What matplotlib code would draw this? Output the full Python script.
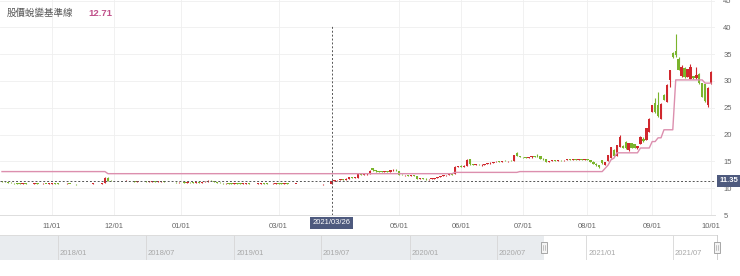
import numpy as np
import pandas as pd
import matplotlib
matplotlib.use("Agg")
import matplotlib.pyplot as plt
import matplotlib.transforms as mtransforms
from matplotlib.patches import Rectangle

plt.rcParams['font.family'] = ['Liberation Sans', 'Noto Sans CJK TC', 'DejaVu Sans']

# ---------------- data ----------------
title_text = "股價蛻變基準線"
start_date = "2020-10-07"
end_date = "2021-10-01"
holidays = ["2020-10-09", "2021-01-01", "2021-02-08", "2021-02-09", "2021-02-10",
            "2021-02-11", "2021-02-12", "2021-02-15", "2021-02-16", "2021-03-01",
            "2021-04-02", "2021-04-05", "2021-04-30", "2021-06-14", "2021-09-20",
            "2021-09-21"]
tick_months = ["2020-11", "2020-12", "2021-01", "2021-03", "2021-05", "2021-06",
               "2021-07", "2021-08", "2021-09", "2021-10"]
tick_labels = ["11/01", "12/01", "01/01", "03/01", "05/01", "06/01",
               "07/01", "08/01", "09/01", "10/01"]
cross_date = "2021-03-26"
y_ticks = [5, 10, 15, 20, 25, 30, 35, 40, 45]

open_ = [
    11.25, 11.20, 11.15, 11.05, 10.95, 10.90, 10.85, 10.80, 10.85, 10.80,
    10.75, 10.80, 10.85, 10.80, 10.78, 10.82, 10.80, 10.85, 10.90, 10.85,
    10.80, 10.75, 10.78, 10.82, 10.80, 10.75, 10.72, 10.75, 10.80, 10.78,
    10.75, 10.80, 10.82, 10.78, 10.80, 10.95, 11.95, 11.40, 11.30, 11.35,
    11.38, 11.32, 11.35, 11.40, 11.33, 11.30, 11.25, 11.30, 11.35, 11.28,
    11.22, 11.25, 11.28, 11.18, 11.20, 11.25, 11.18, 11.12, 11.15, 11.18,
    11.10, 11.15, 11.18, 11.08, 11.12, 11.10, 11.05, 11.10, 11.08, 11.15,
    11.25, 11.40, 11.30, 11.15, 11.05, 10.95, 10.90, 10.95, 10.88, 10.85,
    10.90, 10.85, 10.80, 10.85, 10.88, 10.82, 10.78, 10.82, 10.88, 10.90,
    10.85, 10.80, 10.78, 10.85, 10.92, 10.86, 10.82, 10.85, 10.80, 10.76,
    10.80, 10.82, 10.78, 10.75, 10.78, 10.80, 10.74, 10.76, 10.78, 10.72,
    10.75, 10.76, 10.78, 11.35, 11.50, 11.58, 11.65, 11.60, 11.80, 12.05,
    12.00, 11.95, 12.70, 12.55, 12.60, 12.70, 13.75, 13.35, 13.15, 13.10,
    13.05, 13.12, 13.05, 13.40, 13.45, 13.20, 12.55, 12.45, 12.50, 12.35,
    12.40, 12.25, 11.80, 11.90, 11.75, 11.65, 11.75, 11.80, 11.92, 12.05,
    12.25, 12.40, 12.45, 12.60, 12.70, 14.00, 14.15, 14.05, 14.20, 15.40,
    14.50, 14.35, 14.40, 14.30, 14.40, 14.50, 14.65, 14.70, 14.85, 15.00,
    14.95, 15.10, 15.05, 15.10, 15.08, 16.50, 16.00, 15.80, 15.75, 15.70,
    15.78, 16.00, 16.10, 15.95, 15.55, 15.40, 14.95, 15.10, 15.20, 15.15,
    15.25, 15.20, 15.28, 15.35, 15.30, 15.38, 15.35, 15.40, 15.35, 15.42,
    15.25, 15.00, 14.60, 14.30, 15.20, 14.30, 15.10, 15.60, 17.10, 16.10,
    17.70, 17.90, 18.70, 17.10, 18.40, 18.20, 17.50, 18.25, 19.20, 19.00,
    20.50, 24.30, 25.90, 25.50, 23.00, 27.40, 26.10, 30.20, 35.15, 35.60,
    34.20, 30.90, 32.50, 30.80, 30.40, 30.90, 30.50, 31.40, 29.60, 29.40,
    25.50, 29.60]

high = [
    11.30, 11.25, 11.18, 11.08, 11.00, 10.95, 10.90, 10.90, 10.88, 10.85,
    10.85, 10.90, 10.88, 10.85, 10.88, 10.85, 10.90, 10.95, 10.92, 10.88,
    10.82, 10.82, 10.88, 10.85, 10.82, 10.78, 10.80, 10.85, 10.82, 10.80,
    10.85, 10.88, 10.85, 10.85, 10.95, 12.10, 12.05, 11.45, 11.40, 11.42,
    11.40, 11.40, 11.45, 11.42, 11.38, 11.35, 11.35, 11.38, 11.40, 11.32,
    11.30, 11.32, 11.30, 11.25, 11.28, 11.30, 11.22, 11.20, 11.22, 11.20,
    11.18, 11.22, 11.20, 11.15, 11.18, 11.15, 11.12, 11.15, 11.20, 11.30,
    11.45, 11.48, 11.32, 11.18, 11.08, 11.00, 10.98, 10.98, 10.92, 10.92,
    10.95, 10.88, 10.88, 10.92, 10.90, 10.85, 10.85, 10.90, 10.95, 10.92,
    10.88, 10.85, 10.88, 10.95, 10.95, 10.90, 10.88, 10.90, 10.85, 10.82,
    10.85, 10.86, 10.82, 10.80, 10.84, 10.82, 10.80, 10.82, 10.80, 10.78,
    10.80, 10.80, 11.45, 11.55, 11.62, 11.70, 11.72, 11.85, 12.10, 12.15,
    12.10, 12.80, 12.75, 12.65, 12.75, 13.35, 13.85, 13.40, 13.22, 13.20,
    13.15, 13.18, 13.45, 13.55, 13.50, 13.25, 12.62, 12.55, 12.55, 12.45,
    12.45, 12.30, 11.95, 11.95, 11.82, 11.80, 11.85, 11.95, 12.10, 12.30,
    12.45, 12.50, 12.65, 12.70, 14.05, 14.20, 14.25, 14.25, 15.40, 15.50,
    14.55, 14.45, 14.50, 14.45, 14.55, 14.70, 14.80, 14.90, 15.05, 15.10,
    15.15, 15.20, 15.15, 15.20, 16.25, 16.80, 16.05, 15.90, 15.85, 15.82,
    16.05, 16.10, 16.35, 16.00, 15.60, 15.45, 15.15, 15.25, 15.30, 15.30,
    15.35, 15.30, 15.40, 15.45, 15.42, 15.48, 15.45, 15.50, 15.48, 15.50,
    15.30, 15.05, 14.65, 14.35, 15.30, 14.95, 16.25, 17.75, 17.30, 18.10,
    19.90, 18.00, 18.80, 18.45, 18.50, 18.30, 17.90, 19.70, 19.50, 21.30,
    23.10, 25.60, 26.80, 28.00, 25.90, 27.50, 29.40, 32.10, 35.40, 38.70,
    34.50, 32.90, 32.60, 32.30, 33.20, 31.00, 32.70, 31.50, 29.70, 29.50,
    28.80, 31.80]

low = [
    11.15, 11.10, 11.00, 10.90, 10.85, 10.80, 10.75, 10.75, 10.75, 10.70,
    10.70, 10.75, 10.75, 10.72, 10.75, 10.75, 10.75, 10.80, 10.80, 10.75,
    10.70, 10.70, 10.75, 10.75, 10.70, 10.68, 10.70, 10.72, 10.72, 10.70,
    10.72, 10.75, 10.75, 10.75, 10.78, 10.90, 11.30, 11.25, 11.25, 11.28,
    11.28, 11.28, 11.30, 11.30, 11.25, 11.20, 11.22, 11.25, 11.25, 11.18,
    11.18, 11.20, 11.15, 11.12, 11.15, 11.15, 11.08, 11.08, 11.10, 11.05,
    11.05, 11.10, 11.05, 11.02, 11.05, 11.00, 11.00, 11.02, 11.05, 11.10,
    11.20, 11.25, 11.10, 11.00, 10.90, 10.85, 10.85, 10.85, 10.80, 10.80,
    10.82, 10.75, 10.75, 10.80, 10.78, 10.72, 10.75, 10.78, 10.82, 10.80,
    10.75, 10.72, 10.75, 10.80, 10.82, 10.78, 10.78, 10.78, 10.72, 10.70,
    10.75, 10.74, 10.70, 10.70, 10.72, 10.70, 10.70, 10.72, 10.70, 10.68,
    10.70, 10.70, 10.75, 11.30, 11.42, 11.50, 11.55, 11.58, 11.75, 11.95,
    11.90, 11.90, 12.50, 12.45, 12.50, 12.65, 13.30, 13.10, 13.02, 13.00,
    12.98, 13.00, 13.02, 13.30, 13.30, 12.50, 12.38, 12.35, 12.30, 12.25,
    12.20, 11.75, 11.72, 11.70, 11.58, 11.60, 11.68, 11.75, 11.88, 12.00,
    12.20, 12.35, 12.40, 12.50, 12.65, 13.95, 14.00, 14.00, 14.15, 14.40,
    14.30, 14.25, 14.25, 14.22, 14.35, 14.45, 14.55, 14.65, 14.80, 14.85,
    14.90, 15.00, 14.95, 15.00, 15.05, 15.95, 15.75, 15.65, 15.62, 15.60,
    15.72, 15.80, 15.90, 15.50, 15.35, 14.90, 14.92, 15.05, 15.10, 15.10,
    15.15, 15.12, 15.20, 15.25, 15.22, 15.30, 15.25, 15.30, 15.28, 15.20,
    14.95, 14.55, 14.20, 13.80, 14.60, 14.25, 15.05, 15.55, 15.85, 16.00,
    17.60, 17.50, 17.40, 17.00, 17.50, 17.45, 17.40, 18.20, 18.60, 18.90,
    20.40, 24.20, 24.10, 23.30, 22.90, 26.40, 26.00, 28.90, 34.30, 34.50,
    32.00, 30.80, 30.60, 30.70, 30.30, 30.40, 30.40, 29.50, 27.00, 26.10,
    25.10, 29.50]

close = [
    11.20, 11.15, 11.05, 10.95, 10.90, 10.85, 10.80, 10.85, 10.80, 10.75,
    10.80, 10.85, 10.80, 10.78, 10.82, 10.80, 10.85, 10.90, 10.85, 10.80,
    10.75, 10.78, 10.82, 10.80, 10.75, 10.72, 10.75, 10.80, 10.78, 10.75,
    10.80, 10.82, 10.78, 10.80, 10.90, 11.95, 11.40, 11.30, 11.35, 11.38,
    11.32, 11.35, 11.40, 11.33, 11.30, 11.25, 11.30, 11.35, 11.28, 11.22,
    11.25, 11.28, 11.18, 11.20, 11.25, 11.18, 11.12, 11.15, 11.18, 11.10,
    11.15, 11.18, 11.08, 11.12, 11.10, 11.05, 11.10, 11.08, 11.15, 11.25,
    11.40, 11.30, 11.15, 11.05, 10.95, 10.90, 10.95, 10.88, 10.85, 10.90,
    10.85, 10.80, 10.85, 10.88, 10.82, 10.78, 10.82, 10.88, 10.90, 10.85,
    10.80, 10.78, 10.85, 10.92, 10.86, 10.82, 10.85, 10.80, 10.76, 10.80,
    10.82, 10.78, 10.75, 10.78, 10.80, 10.74, 10.76, 10.78, 10.72, 10.75,
    10.76, 10.78, 11.35, 11.50, 11.58, 11.65, 11.60, 11.80, 12.05, 12.00,
    12.05, 12.70, 12.55, 12.60, 12.70, 13.30, 13.35, 13.15, 13.10, 13.05,
    13.12, 13.05, 13.40, 13.45, 13.35, 12.55, 12.45, 12.50, 12.35, 12.40,
    12.25, 11.80, 11.90, 11.75, 11.65, 11.75, 11.80, 11.92, 12.05, 12.25,
    12.40, 12.45, 12.60, 12.55, 14.00, 14.15, 14.05, 14.20, 15.30, 14.50,
    14.35, 14.40, 14.30, 14.40, 14.50, 14.65, 14.70, 14.85, 15.00, 14.95,
    15.10, 15.05, 15.10, 15.08, 16.20, 16.00, 15.80, 15.75, 15.70, 15.78,
    15.95, 15.85, 15.95, 15.55, 15.40, 14.95, 15.10, 15.20, 15.15, 15.25,
    15.20, 15.28, 15.35, 15.30, 15.38, 15.35, 15.40, 15.35, 15.42, 15.25,
    15.00, 14.60, 14.30, 13.90, 14.65, 14.90, 16.20, 17.70, 15.95, 18.00,
    19.60, 17.60, 17.45, 18.40, 17.55, 17.50, 17.80, 19.60, 18.90, 21.20,
    23.00, 25.50, 24.20, 23.40, 25.80, 26.50, 29.30, 32.00, 34.50, 34.80,
    32.10, 32.70, 30.70, 32.20, 32.60, 30.50, 31.20, 29.60, 27.10, 26.20,
    28.70, 31.70]

# 股價蛻變基準線 (step-like baseline), run-length written
baseline = ([13.10] * 36 + [12.71] * 118 + [12.95] * 22 + [13.10] * 29 +
            [13.70] + [14.30] + [15.30] + [15.60] + [16.60] * 8 + [17.50] * 4 +
            [18.70] * 2 + [19.40] * 2 + [20.90] * 4 + [30.20] * 10 + [29.60] * 3)

nav_labels = ["2018/01", "2018/07", "2019/01", "2019/07",
              "2020/01", "2020/07", "2021/01", "2021/07"]
nav_dates = ["2018-01-01", "2018-07-02", "2019-01-02", "2019-07-01",
             "2020-01-02", "2020-07-01", "2021-01-04", "2021-07-01"]

# ---------------- build ----------------
dates = pd.bdate_range(start_date, end_date)
dates = dates[~dates.isin(pd.to_datetime(holidays))]
n = min(len(dates), len(open_), len(high), len(low), len(close), len(baseline))
dates = dates[:n]
o = np.array(open_[:n]); h = np.array(high[:n]); l = np.array(low[:n]); c = np.array(close[:n])
base = np.array(baseline[:n])
idx = np.arange(n)

W, H = 740, 276
fig = plt.figure(figsize=(W / 100, H / 100), dpi=100)
ax = fig.add_axes([0, 61 / H, 715 / W, 215 / H])

RED = '#d0282e'
GREEN = '#7ab42c'
up = c >= o
colors = np.where(up, RED, GREEN)
ax.vlines(idx, l, h, colors=colors, lw=0.8, zorder=3)
body = np.maximum(np.abs(c - o), 0.1)
ax.bar(idx, body, bottom=np.minimum(o, c) - 0.02, width=0.82, color=colors, lw=0, zorder=4)

ax.plot(idx, base, color='#dc8fae', lw=1.0, zorder=5)

ax.set_xlim(-0.68, 242.35)
ax.set_ylim(5, 45.11)

# x ticks at first trading day of labelled months
tick_pos = []
for m in tick_months:
    per = pd.Period(m, 'M')
    sel = np.where((dates.year == per.year) & (dates.month == per.month))[0]
    tick_pos.append(sel[0] if len(sel) else n - 1)
ax.set_xticks(tick_pos)
ax.set_xticklabels(tick_labels)
ax.set_yticks(y_ticks)
ax.set_yticklabels([str(v) for v in y_ticks])
ax.yaxis.tick_right()
ax.tick_params(axis='y', length=0, pad=6, labelsize=5.5, labelcolor='#666666')
ax.tick_params(axis='x', length=0, pad=5.5, labelsize=5.5, labelcolor='#666666')
ax.grid(True, axis='both', color='#efefef', lw=0.6, zorder=0)
for s in ['top', 'right', 'left']:
    ax.spines[s].set_visible(False)
ax.spines['bottom'].set_color('#dddddd')
ax.spines['bottom'].set_linewidth(0.7)

# crosshair
ci = int(np.where(dates == pd.Timestamp(cross_date))[0][0])
cv = c[ci]
ax.axvline(ci, ymax=(215 - 25) / 215, color='#555555', lw=0.7, ls=(0, (2, 2)), zorder=6)
ax.axhline(cv, color='#555555', lw=0.7, ls=(0, (2, 2)), zorder=6)
box = dict(boxstyle='square,pad=0.35', fc='#4e5a7e', ec='none')
ax.text(1.0 + 5 / 715, cv, f"{cv:.2f}", transform=mtransforms.blended_transform_factory(ax.transAxes, ax.transData),
        ha='left', va='center', color='white', fontsize=5.5, fontweight='bold', bbox=box, clip_on=False, zorder=10)
ax.annotate(dates[ci].strftime('%Y/%m/%d'), xy=(ci, 0),
            xycoords=mtransforms.blended_transform_factory(ax.transData, ax.transAxes),
            xytext=(0, -3.2), textcoords='offset points', ha='center', va='top',
            color='white', fontsize=5.5, bbox=box, annotation_clip=False, zorder=10)

# title
fig.text(7 / W, 1 - 13 / H, title_text, color='#555555', fontsize=6.8, va='center', ha='left',
         family=['Noto Sans CJK TC', 'DejaVu Sans'])
fig.text(88 / W, 1 - 13 / H, f"{base[ci]:.2f}", color='#c0508a', fontsize=6.8, va='center', ha='left',
         fontweight='bold')

# navigator
nav = fig.add_axes([0, (H - 260) / H, 1, 25 / H])
ref = "2018-01-01"
b_nav = np.array([np.busday_count(ref, d) for d in nav_dates])
b_sel0 = np.busday_count(ref, dates[0].strftime('%Y-%m-%d'))
b_end = np.busday_count(ref, dates[-1].strftime('%Y-%m-%d'))
s = (717 - 58) / (b_end - 0)
b0 = -58 / s
nav.set_xlim(b0, b0 + W / s)
nav.set_ylim(0, 1)
nav.axis('off')
nav.add_patch(Rectangle((b0, 0), b_sel0 - b0, 1, fc='#e9ecef', ec='none', zorder=0))
for b, lab in zip(b_nav, nav_labels):
    nav.plot([b, b], [0, 1], color='#d6d6d6', lw=0.6, zorder=1)
    nav.text(b + 2 / s, 0.25, lab, color='#a8a8a8', fontsize=5.5, ha='left', va='center')
nav.plot([b0, b_end], [1, 1], color='#dcdcdc', lw=0.7)
nav.plot([b_sel0, b_end, b_end], [0.02, 0.02, 1], color='#cfcfcf', lw=0.7)
for bb in [b_sel0, b_end]:
    nav.add_patch(Rectangle((bb - 2.6 / s, 0.28), 5.2 / s, 0.44, fc='#f4f4f4', ec='#9a9a9a', lw=0.6, zorder=3))
    nav.plot([bb - 0.9 / s, bb - 0.9 / s], [0.4, 0.6], color='#9a9a9a', lw=0.4, zorder=4)
    nav.plot([bb + 0.9 / s, bb + 0.9 / s], [0.4, 0.6], color='#9a9a9a', lw=0.4, zorder=4)

fig.savefig('out.png', dpi=100)
